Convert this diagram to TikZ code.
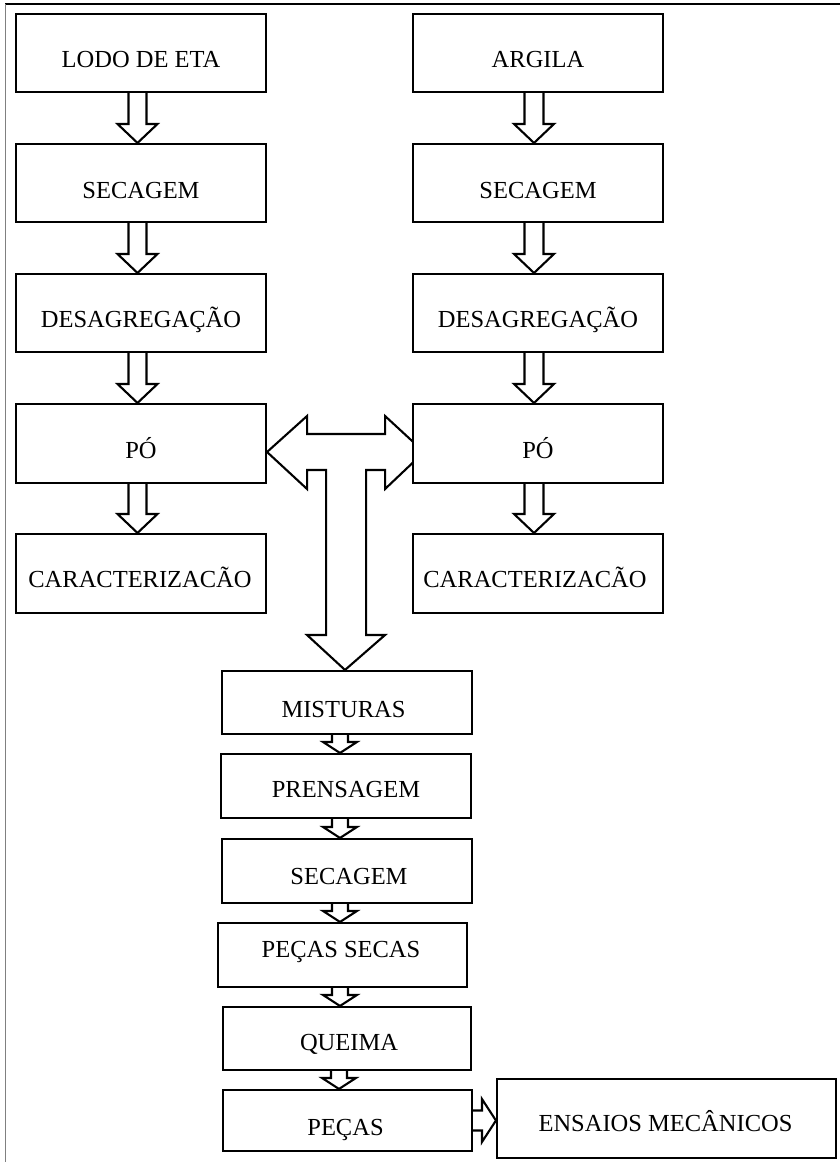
\documentclass[tikz,border=0pt]{standalone}
\usepackage{fontspec}
\setmainfont{Liberation Serif}
\usetikzlibrary{calc}
\pgfdeclarelayer{bg}
\pgfsetlayers{bg,main}
\tikzset{
  box/.style={draw=black, line width=2.1pt, fill=white, rectangle, inner sep=0pt},
  lbl/.style={inner sep=0pt, text height=16.2pt, text depth=0pt, font=\fontsize{24.5}{29}\selectfont},
  blk/.style={draw=black, line width=2.1pt, fill=white, line join=miter},
}
% #1 from, #2 to, #3 x offset from #1 centre, #4 shaft half width, #5 head half width, #6 head length
\newcommand{\blkdown}[6]{%
  \path (#1.south) ++(#3,0) coordinate (ba);
  \path (ba |- #2.north) coordinate (bb);
  \draw[blk] ($(ba)+(-#4,0)$) -- ($(bb)+(-#4,-#6)$) -- ($(bb)+(-#5,-#6)$) -- (bb)
     -- ($(bb)+(#5,-#6)$) -- ($(bb)+(#4,-#6)$) -- ($(ba)+(#4,0)$);
}
\newcommand{\blkright}[6]{%
  \path (#1.east) ++(0,#3) coordinate (ba);
  \path (ba -| #2.west) coordinate (bb);
  \draw[blk] ($(ba)+(0,-#4)$) -- ($(bb)+(-#6,-#4)$) -- ($(bb)+(-#6,-#5)$) -- (bb)
     -- ($(bb)+(-#6,#5)$) -- ($(bb)+(-#6,#4)$) -- ($(ba)+(0,#4)$);
}
\begin{document}
\begin{tikzpicture}[x=1pt,y=-1pt]
\useasboundingbox (0,0) rectangle (840,1162);
% page frame
\draw[line width=1.3pt, black] (5,4) coordinate (fa) -- (840,4) coordinate (fb);
\draw[line width=1pt, black!50] (fa) -- (5,1162) coordinate (fc);

% left column
\node[box, minimum width=250pt, minimum height=78pt, label={[lbl,yshift=-6.5pt]center:LODO DE ETA}] (lodo) at (141,53) {};
\node[box, minimum width=250pt, minimum height=78pt, label={[lbl,yshift=-7pt]center:SECAGEM}] (secA) at (141,183) {};
\node[box, minimum width=250pt, minimum height=78pt, label={[lbl,yshift=-6.5pt]center:DESAGREGAÇÃO}] (desA) at (141,313) {};
\node[box, minimum width=250pt, minimum height=79pt, label={[lbl,yshift=-6.5pt]center:PÓ}] (poA) at (141,443.5) {};
\node[box, minimum width=250pt, minimum height=79pt, label={[lbl,xshift=-1pt,yshift=-6pt]center:CARACTERIZACÃO}] (carA) at (141,573.5) {};

% right column
\node[box, minimum width=250pt, minimum height=78pt, label={[lbl,yshift=-6.5pt]center:ARGILA}] (arg) at (538,53) {};
\node[box, minimum width=250pt, minimum height=78pt, label={[lbl,yshift=-7pt]center:SECAGEM}] (secB) at (538,183) {};
\node[box, minimum width=250pt, minimum height=78pt, label={[lbl,yshift=-6.5pt]center:DESAGREGAÇÃO}] (desB) at (538,313) {};
\node[box, minimum width=250pt, minimum height=79pt, label={[lbl,yshift=-6.5pt]center:PÓ}] (poB) at (538,443.5) {};
\node[box, minimum width=250pt, minimum height=79pt, label={[lbl,xshift=-3pt,yshift=-6pt]center:CARACTERIZACÃO}] (carB) at (538,573.5) {};

% bottom column
\node[box, minimum width=250pt, minimum height=63pt, label={[lbl,xshift=-3.5pt,yshift=-7pt]center:MISTURAS}] (mis) at (347,702.5) {};
\node[box, minimum width=250pt, minimum height=64pt, label={[lbl,yshift=-3.5pt]center:PRENSAGEM}] (pren) at (346,786) {};
\node[box, minimum width=250pt, minimum height=64pt, label={[lbl,xshift=2pt,yshift=-5pt]center:SECAGEM}] (secC) at (347,871) {};
\node[box, minimum width=249pt, minimum height=64pt, label={[lbl,xshift=-1.5pt,yshift=6pt]center:PEÇAS SECAS}] (pse) at (342.5,955) {};
\node[box, minimum width=248pt, minimum height=63pt, label={[lbl,xshift=2pt,yshift=-3.5pt]center:QUEIMA}] (que) at (347,1038.5) {};
\node[box, minimum width=249pt, minimum height=61pt, label={[lbl,xshift=-2pt,yshift=-7pt]center:PEÇAS}] (pec) at (347.5,1120.5) {};
\node[box, minimum width=339pt, minimum height=79pt, label={[lbl,xshift=-1pt,yshift=-5pt]center:ENSAIOS MECÂNICOS}] (ens) at (666.5,1118.5) {};

\begin{pgfonlayer}{bg}
% left column arrows
\blkdown{lodo}{secA}{-3.5}{9}{20}{19}
\blkdown{secA}{desA}{-3.5}{9}{20}{19}
\blkdown{desA}{poA}{-3.5}{9}{20}{19}
\blkdown{poA}{carA}{-3.5}{9}{20}{19}
% right column arrows
\blkdown{arg}{secB}{-4}{9.5}{20}{19}
\blkdown{secB}{desB}{-4}{9.5}{20}{19}
\blkdown{desB}{poB}{-4}{9.5}{20}{19}
\blkdown{poB}{carB}{-4}{9.5}{20}{19}
% bottom column arrows
\blkdown{mis}{pren}{-7}{8}{17}{11}
\blkdown{pren}{secC}{-6}{8}{17}{11}
\blkdown{secC}{pse}{-7}{8}{17}{11}
\blkdown{pse}{que}{-2.5}{8}{17}{11}
\blkdown{que}{pec}{-8}{8}{17}{11}
\blkright{pec}{ens}{0}{10}{21.5}{14}
% T-shaped double arrow from the two powders to the mixtures
\path ($(poA.east)+(0,8.5)$) coordinate (tL);
\path ($(mis.north)+(-2,0)$) coordinate (tB);
\draw[blk] (tL) -- ($(tL)+(40,-36)$) -- ($(tL)+(40,-18)$) -- ($(tL)+(118,-18)$)
  -- ($(tL)+(118,-36)$) -- ($(tL)+(157,0)$) -- ($(tL)+(118,37)$) -- ($(tL)+(118,18)$)
  -- ($(tL)+(99,18)$) -- ($(tL)+(99,183)$) -- ($(tL)+(118,183)$) -- (tB)
  -- ($(tL)+(40,183)$) -- ($(tL)+(59,183)$) -- ($(tL)+(59,18)$) -- ($(tL)+(40,18)$)
  -- ($(tL)+(40,37)$) -- cycle;
\end{pgfonlayer}
\end{tikzpicture}
\end{document}
